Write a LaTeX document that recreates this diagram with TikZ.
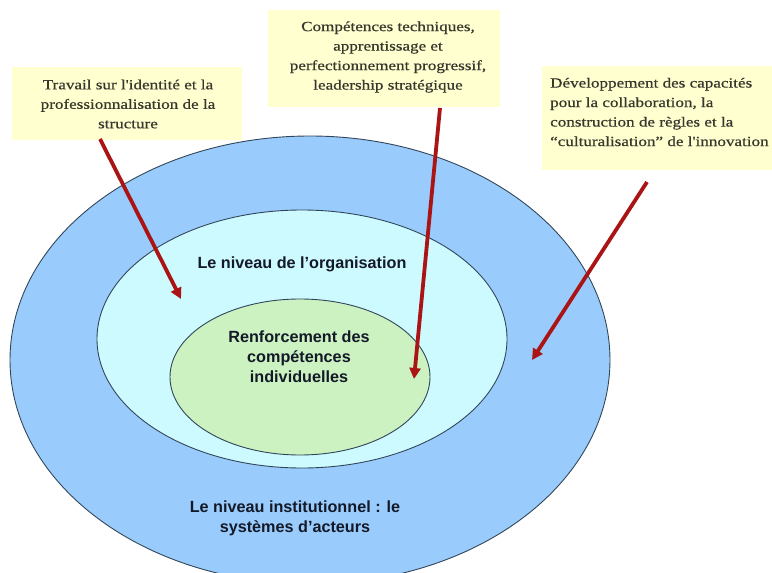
\documentclass[tikz,border=0pt]{standalone}
\usepackage{fontspec}
\setmainfont{Liberation Serif}
\setsansfont{Liberation Sans}
\newfontfamily\notefont[FakeStretch=1.22,FakeBold=0.6]{Liberation Serif}
\usetikzlibrary{arrows.meta,shapes.geometric}
\definecolor{outerblue}{RGB}{153,204,252}
\definecolor{midcyan}{RGB}{204,250,255}
\definecolor{innergreen}{RGB}{204,242,194}
\definecolor{ringline}{RGB}{50,70,90}
\definecolor{boxyellow}{RGB}{255,255,208}
\definecolor{boxtext}{RGB}{55,55,45}
\definecolor{labeltext}{RGB}{20,25,40}
\definecolor{arrowred}{RGB}{170,20,20}
\tikzset{
  ring/.style={ellipse, draw=ringline, line width=0.9pt, inner sep=0pt},
  notebox/.style={rectangle, fill=boxyellow, draw=none, inner sep=0pt},
  notetext/.style={font=\notefont\fontsize{14}{19.5}\selectfont, text=boxtext, inner sep=0pt},
  ringlabel/.style={font=\sffamily\bfseries\fontsize{16.2}{20}\selectfont, text=labeltext, align=center, inner sep=0pt},
  redarrow/.style={draw=arrowred, line width=3.8pt, -{Triangle[length=11pt,width=11pt]}},
}
\begin{document}
\begin{tikzpicture}[x=1pt,y=-1pt]
\useasboundingbox (0,0) rectangle (772,573);
% rings
\node[ring, fill=outerblue, minimum width=600pt, minimum height=448pt] (outer) at (310,360) {};
\node[ring, fill=midcyan, minimum width=410pt, minimum height=258pt] (middle) at (302,339) {};
\node[ring, fill=innergreen, minimum width=260pt, minimum height=156pt] (inner) at (300,377) {};
% ring labels
\node[ringlabel] (lorg) at (302,264) {Le niveau de l'organisation};
\node[ringlabel] (lind) at (299,357) {Renforcement des\\compétences\\individuelles};
\node[ringlabel] (linst) at (295,518) {Le niveau institutionnel : le\\systèmes d'acteurs};
% note boxes
\node[notebox, minimum width=230pt, minimum height=73pt] (b1) at (127,103.5) {};
\node[notetext, align=center] (t1) at (128,104) {Travail sur l'identité et la\\professionnalisation de la\\structure};
\node[notebox, minimum width=232pt, minimum height=97pt] (b2) at (384,58.5) {};
\node[notetext, align=center] (t2) at (388,57) {Compétences techniques,\\apprentissage et\\perfectionnement progressif,\\leadership stratégique};
\node[notebox, minimum width=232pt, minimum height=104pt] (b3) at (658,118) {};
\node[notetext, align=left, anchor=west] (t3) at (550,112) {Développement des capacités\\pour la collaboration, la\\construction de règles et la\\“culturalisation” de l'innovation};
% arrow ends
\coordinate (a1s) at (100,139);
\coordinate (a1e) at (181,299);
\coordinate (a2s) at (440,108);
\coordinate (a2e) at (414,379);
\coordinate (a3s) at (647,182);
\coordinate (a3e) at (532,360);
\draw[redarrow] (a1s) -- (a1e);
\draw[redarrow] (a2s) -- (a2e);
\draw[redarrow] (a3s) -- (a3e);
\end{tikzpicture}
\end{document}
